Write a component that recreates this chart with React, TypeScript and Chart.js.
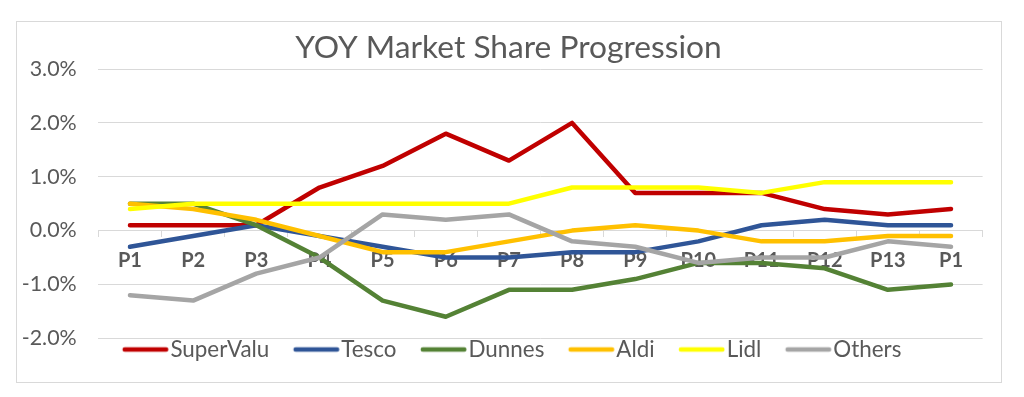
import React, { useEffect, useRef } from 'react';
import { Chart, registerables } from 'chart.js';

Chart.register(...registerables);

const categories = ['P1', 'P2', 'P3', 'P4', 'P5', 'P6', 'P7', 'P8', 'P9', 'P10', 'P11', 'P12', 'P13', 'P1'];

const superValu = [0.1, 0.1, 0.1, 0.8, 1.2, 1.8, 1.3, 2.0, 0.7, 0.7, 0.7, 0.4, 0.3, 0.4];
const tesco = [-0.3, -0.1, 0.1, -0.1, -0.3, -0.5, -0.5, -0.4, -0.4, -0.2, 0.1, 0.2, 0.1, 0.1];
const dunnes = [0.5, 0.5, 0.1, -0.5, -1.3, -1.6, -1.1, -1.1, -0.9, -0.6, -0.6, -0.7, -1.1, -1.0];
const aldi = [0.5, 0.4, 0.2, -0.1, -0.4, -0.4, -0.2, 0.0, 0.1, 0.0, -0.2, -0.2, -0.1, -0.1];
const lidl = [0.4, 0.5, 0.5, 0.5, 0.5, 0.5, 0.5, 0.8, 0.8, 0.8, 0.7, 0.9, 0.9, 0.9];
const others = [-1.2, -1.3, -0.8, -0.5, 0.3, 0.2, 0.3, -0.2, -0.3, -0.6, -0.5, -0.5, -0.2, -0.3];

const seriesNames = ['SuperValu', 'Tesco', 'Dunnes', 'Aldi', 'Lidl', 'Others'];
const seriesData = [superValu, tesco, dunnes, aldi, lidl, others];
const seriesColors = ['#C00000', '#2F5597', '#548235', '#FFC000', '#FFFF00', '#A5A5A5'];

const yMin = -2;
const yMax = 3;
const yStep = 1;

const TEXT = '#595959';
const GRID = '#D9D9D9';
const FONT = 'Lato, "Open Sans", sans-serif';

// legend geometry
const LEG_FONT = 22.4;
const LINE_LEN = 46;
const LINE_TEXT_GAP = 2;
const ITEM_GAP = 24;
const BOX_W = ITEM_GAP + LINE_TEXT_GAP + LINE_LEN - LEG_FONT / 2;

function makeSwatch(color: string): HTMLCanvasElement {
  const center = BOX_W / 2;
  const start = ITEM_GAP - center;
  const end = ITEM_GAP + LINE_LEN - center;
  const half = Math.max(Math.abs(start), Math.abs(end)) + 1;
  const c = document.createElement('canvas');
  c.width = Math.ceil(half * 2);
  c.height = 8;
  const ctx = c.getContext('2d')!;
  const mid = c.width / 2;
  ctx.strokeStyle = color;
  ctx.lineWidth = 4.5;
  ctx.lineCap = 'round';
  ctx.beginPath();
  ctx.moveTo(mid + start + 2.25, 4);
  ctx.lineTo(mid + end - 2.25, 4);
  ctx.stroke();
  return c;
}

export default function App() {
  const ref = useRef<HTMLCanvasElement | null>(null);

  useEffect(() => {
    if (!ref.current) return;
    const swatches = seriesColors.map(makeSwatch);
    const n = seriesNames.length;
    const padL = 4;
    const padR = 5;
    const chartLeft = 81.4;
    const chartRight = 965.6;
    const W = 984;
    const chart = new Chart(ref.current, {
      type: 'line',
      data: {
        labels: categories,
        datasets: seriesNames.map((name, i) => ({
          label: name,
          data: seriesData[i],
          borderColor: seriesColors[i],
          backgroundColor: seriesColors[i],
          borderWidth: 4.5,
          borderCapStyle: 'round' as const,
          borderJoinStyle: 'round' as const,
          pointRadius: 0,
          pointHoverRadius: 0,
          tension: 0,
          fill: false,
          yAxisID: 'y',
          order: n - 1 - i,
        })),
      },
      options: {
        responsive: false,
        animation: false,
        events: [],
        layout: { padding: { left: padL, right: padR, top: 0, bottom: 11.3 } },
        plugins: {
          tooltip: { enabled: false },
          title: {
            display: true,
            text: 'YOY Market Share Progression',
            color: TEXT,
            font: { family: FONT, size: 31.7, weight: 'normal' },
            padding: { top: 7, bottom: 2 },
          },
          legend: {
            display: true,
            position: 'bottom',
            align: 'start',
            fullSize: false,
            labels: {
              usePointStyle: true,
              pointStyleWidth: BOX_W,
              padding: 0,
              color: TEXT,
              font: { family: FONT, size: LEG_FONT },
              generateLabels: (c: any) =>
                c.data.datasets.map((ds: any, i: number) => ({
                  text: ds.label,
                  fillStyle: ds.borderColor,
                  strokeStyle: ds.borderColor,
                  lineWidth: 0,
                  pointStyle: swatches[i],
                  hidden: false,
                  datasetIndex: i,
                  fontColor: TEXT,
                })),
            },
          },
        },
        scales: {
          x: {
            type: 'category',
            position: { y: 0 } as any,
            offset: true,
            z: 1,
            grid: {
              display: true,
              drawOnChartArea: false,
              drawTicks: true,
              offset: true,
              tickLength: 6,
              color: GRID,
              lineWidth: 1,
            },
            border: { display: true, color: GRID, width: 1 },
            ticks: {
              color: TEXT,
              font: { family: FONT, size: 20, weight: 'bold' },
              padding: 12,
              autoSkip: false,
              maxRotation: 0,
            },
          },
          y: {
            type: 'linear',
            position: 'left',
            min: yMin,
            max: yMax,
            afterFit: (scale: any) => {
              scale.width = chartLeft - padL;
            },
            grid: { color: GRID, lineWidth: 1, drawTicks: false },
            border: { display: false },
            ticks: {
              stepSize: yStep,
              color: TEXT,
              font: { family: FONT, size: 21.4 },
              padding: 21.7,
              callback: (v: any) => Number(v).toFixed(1) + '%',
            },
          },
          yRight: {
            type: 'linear',
            position: 'right',
            display: true,
            afterFit: (scale: any) => {
              scale.width = W - padR - chartRight;
            },
            grid: { display: false, drawTicks: false },
            border: { display: false },
            ticks: { display: false },
          },
        },
      },
    });
    return () => chart.destroy();
  }, []);

  return (
    <div style={{ paddingLeft: 8, paddingTop: 13 }}>
      <div
        style={{
          width: 986,
          height: 362,
          boxSizing: 'border-box',
          border: '1px solid #D9D9D9',
          background: '#fff',
        }}
      >
        <canvas ref={ref} width={984} height={360} style={{ display: 'block', width: 984, height: 360 }} />
      </div>
    </div>
  );
}
